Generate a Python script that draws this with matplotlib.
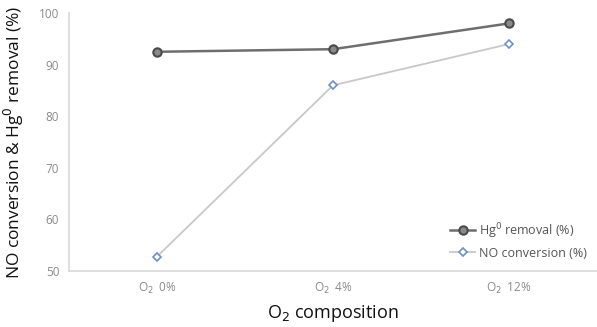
import matplotlib
matplotlib.use("Agg")
import matplotlib.pyplot as plt

categories = ["O$_2$  0%", "O$_2$  4%", "O$_2$  12%"]
hg_removal = [92.5, 93.0, 98.0]
no_conversion = [52.8, 86.0, 94.0]
y_ticks = [50, 60, 70, 80, 90, 100]

plt.rcParams['font.family'] = ['Open Sans', 'DejaVu Sans']

fig = plt.figure(figsize=(5.97, 3.27), dpi=100)
ax = fig.add_axes([0.1156, 0.171, 0.8844, 0.789])

x = list(range(len(categories)))
ax.plot(x, hg_removal, color='#6e6e6e', lw=1.8, marker='o', ms=6,
        mfc='#8a8a8a', mec='#4a4a4a', mew=1.5, label='Hg$^0$ removal (%)', zorder=3)
ax.plot(x, no_conversion, color='#c8c8c8', lw=1.3, marker='D', ms=4.5,
        mfc='white', mec='#6f8fc8', mew=1.2, label='NO conversion (%)', zorder=3)

ax.set_xlim(-0.5, 2.5)
ax.set_ylim(50, 100)
ax.set_yticks(y_ticks)
ax.set_xticks(x)
ax.set_xticklabels(categories)
ax.tick_params(axis='both', length=0, labelsize=8.5, labelcolor='#8a8a8a')
ax.tick_params(axis='y', pad=7)
ax.tick_params(axis='x', pad=7)

for s in ['top', 'right']:
    ax.spines[s].set_visible(False)
for s in ['left', 'bottom']:
    ax.spines[s].set_color('#d9d9d9')
    ax.spines[s].set_linewidth(1.2)

ax.set_ylabel("NO conversion & Hg$^0$ removal (%)", fontsize=12.5, color='#111111', labelpad=9)
ax.set_xlabel("O$_2$ composition", fontsize=13, color='#111111', labelpad=5)

leg = ax.legend(loc='lower right', bbox_to_anchor=(1.0, 0.005), frameon=False,
                fontsize=9, labelcolor='#555555', handlelength=2.0, borderpad=0.3,
                labelspacing=0.5, handletextpad=0.3)

fig.savefig("out.png", dpi=100)
